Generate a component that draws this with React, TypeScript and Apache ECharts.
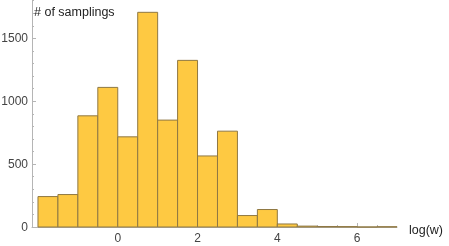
import React, { useEffect, useRef } from "react";
import * as echarts from "echarts";

const binStarts = [-2, -1.5, -1, -0.5, 0, 0.5, 1, 1.5, 2, 2.5, 3, 3.5, 4, 4.5, 5, 5.5, 6, 6.5];
const counts = [242, 258, 884, 1110, 717, 1707, 850, 1325, 565, 762, 91, 139, 24, 7, 4, 3, 0, 2];
const binWidth = 0.5;
const xMajorTicks = [0, 2, 4, 6];
const xMinorTicks = [-2, -1.5, -1, -0.5, 0.5, 1, 1.5, 2.5, 3, 3.5, 4.5, 5, 5.5, 6.5];
const yMajorTicks = [0, 500, 1000, 1500];
const yMinorTicks = [100, 200, 300, 400, 600, 700, 800, 900, 1100, 1200, 1300, 1400, 1600, 1700, 1800];

export default function App() {
  const ref = useRef<HTMLDivElement>(null);
  useEffect(() => {
    const chart = echarts.init(ref.current!, undefined, { renderer: "svg" });
    const data = binStarts.map((s, i) => [s, s + binWidth, counts[i]]);
    const axisLineStyle = { color: "#b5b5b5", width: 1 };
    const font = "'Liberation Sans', Arial, sans-serif";
    const plain = (v: number) => String(v);
    chart.setOption({
      animation: false,
      grid: { left: 32, right: 52, top: 0, bottom: 19, containLabel: false, outerBoundsMode: "none" },
      xAxis: [
        {
          type: "value",
          min: -2.15,
          max: 7,
          axisLine: { show: true, onZero: false, lineStyle: axisLineStyle },
          axisTick: { show: true, inside: true, length: 4, customValues: xMajorTicks, lineStyle: axisLineStyle },
          axisLabel: { customValues: xMajorTicks, formatter: plain, color: "#444", fontSize: 12, fontFamily: font, margin: 5 },
          splitLine: { show: false },
        },
        {
          type: "value",
          min: -2.15,
          max: 7,
          position: "bottom",
          axisLine: { show: false, onZero: false },
          axisTick: { show: true, inside: true, length: 2, customValues: xMinorTicks, lineStyle: axisLineStyle },
          axisLabel: { show: false },
          splitLine: { show: false },
        },
      ],
      yAxis: [
        {
          type: "value",
          min: 0,
          max: 1805,
          axisLine: { show: true, onZero: false, lineStyle: axisLineStyle },
          axisTick: { show: true, inside: true, length: 4, customValues: yMajorTicks, lineStyle: axisLineStyle },
          axisLabel: { customValues: yMajorTicks, formatter: plain, color: "#444", fontSize: 12, fontFamily: font, margin: 4 },
          splitLine: { show: false },
        },
        {
          type: "value",
          min: 0,
          max: 1805,
          position: "left",
          axisLine: { show: false, onZero: false },
          axisTick: { show: true, inside: true, length: 2, customValues: yMinorTicks, lineStyle: axisLineStyle },
          axisLabel: { show: false },
          splitLine: { show: false },
        },
      ],
      graphic: [
        { type: "text", left: 34, top: 5, style: { text: "# of samplings", fill: "#222", font: `12.5px ${font}` } },
        { type: "text", left: 409, top: 223, style: { text: "log(w)", fill: "#222", font: `12.5px ${font}` } },
      ],
      series: [
        {
          type: "custom",
          xAxisIndex: 0,
          yAxisIndex: 0,
          data,
          renderItem: (params: any, api: any) => {
            const x0 = api.value(0);
            const x1 = api.value(1);
            const y = api.value(2);
            const p0 = api.coord([x0, y]);
            const p1 = api.coord([x1, 0]);
            return {
              type: "rect",
              shape: { x: p0[0], y: p0[1], width: p1[0] - p0[0], height: p1[1] - p0[1] },
              style: { fill: "#fec942", stroke: "#8f7843", lineWidth: 1 },
            };
          },
        },
      ],
    });
    return () => chart.dispose();
  }, []);
  return <div ref={ref} style={{ position: "fixed", left: 0, top: 0, width: 449, height: 246 }} />;
}
